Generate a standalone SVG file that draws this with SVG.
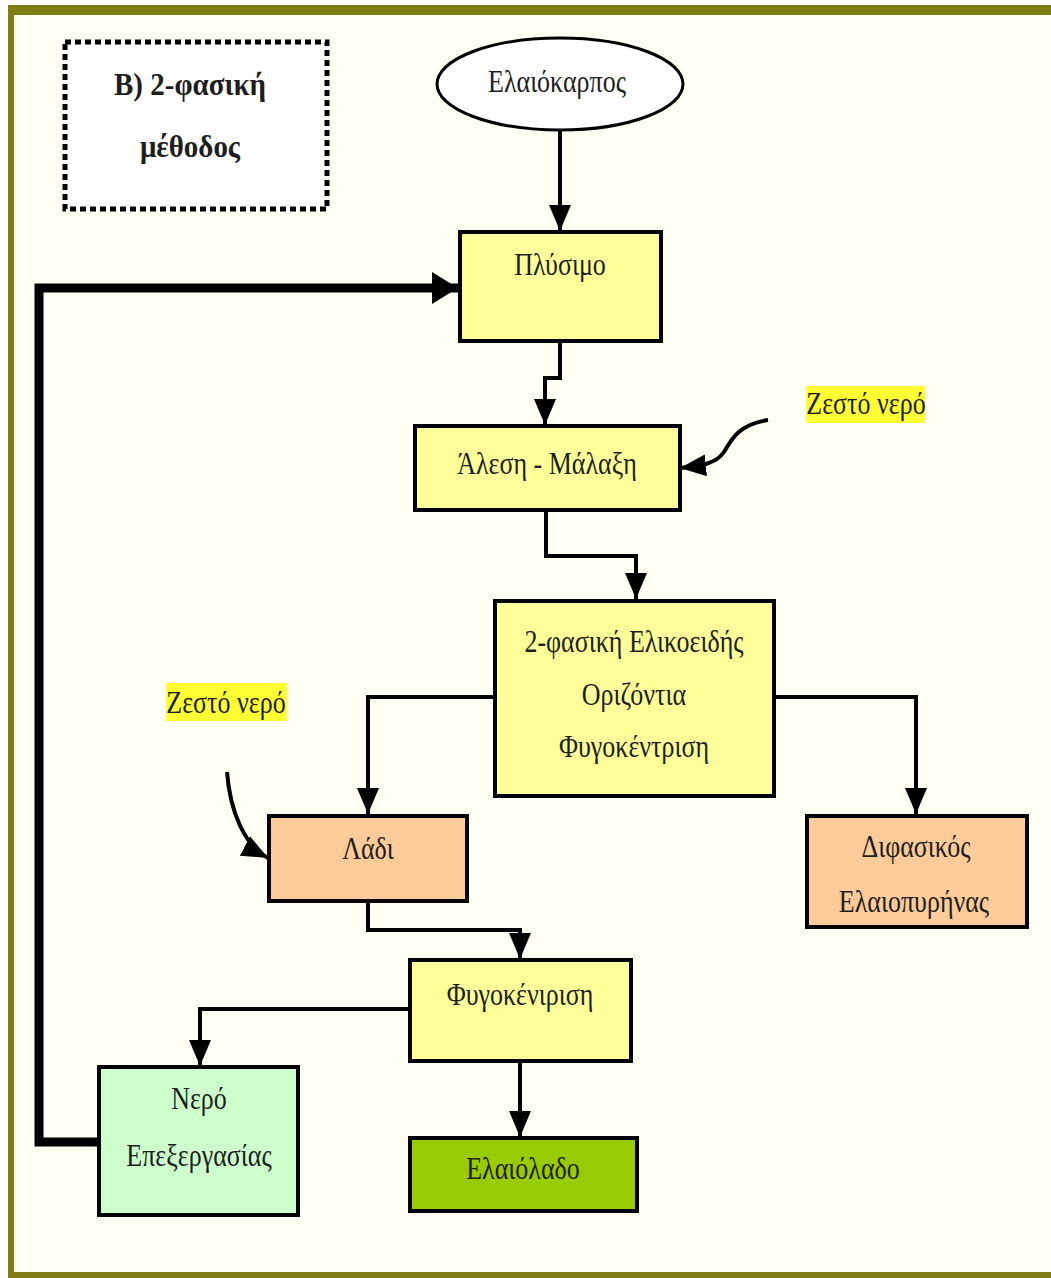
<svg xmlns="http://www.w3.org/2000/svg" width="1051" height="1278" viewBox="0 0 1051 1278">
<defs>
<marker id="ah" markerUnits="userSpaceOnUse" markerWidth="28" markerHeight="22" refX="26" refY="11" orient="auto">
<path d="M0,0 L26,11 L0,22 z" fill="#000"/>
</marker>
<marker id="ahb" markerUnits="userSpaceOnUse" markerWidth="28" markerHeight="32" refX="26" refY="16" orient="auto">
<path d="M0,0 L26,16 L0,32 z" fill="#000"/>
</marker>
<style>
.box{stroke:#000;stroke-width:4}
.y{fill:#ffff99}
.o{fill:#ffcc99}
.g{fill:#ccffcc}
.dg{fill:#99cc00}
.t{font-family:'Liberation Serif','DejaVu Serif',serif;font-size:26px;fill:#1e1e1e;text-anchor:middle}
.b{font-weight:bold;font-size:29px}
.c{fill:none;stroke:#000;stroke-width:4;marker-end:url(#ah)}
.hl{fill:#ffff33}
</style>
</defs>
<rect x="0" y="0" width="1051" height="1278" fill="#ffffff"/>
<rect x="11" y="10" width="1040" height="1265" fill="#fffff4"/>
<rect x="8" y="5" width="1043" height="10" fill="#7d7d14"/>
<rect x="8" y="5" width="6" height="1273" fill="#7d7d14"/>
<rect x="8" y="1272" width="1043" height="6" fill="#7d7d14"/>

<g id="title">
<rect x="65" y="42" width="262" height="167" fill="#ffffff" stroke="#000" stroke-width="5" stroke-dasharray="6 4"/>
<text class="t b" transform="translate(190 95) scale(1 1.12)">B) 2-φασική</text>
<text class="t b" transform="translate(190 157) scale(1 1.12)">μέθοδος</text>
</g>

<g id="connectors">
<path class="c" d="M560,130 V231"/>
<path class="c" d="M560,341 V378 H545 V425"/>
<path class="c" d="M546,510 V556 H636 V599"/>
<path class="c" d="M494,697 H368 V814"/>
<path class="c" d="M773,697 H916 V814"/>
<path class="c" d="M368,900 V930 H520 V959"/>
<path class="c" d="M410,1009 H200 V1066"/>
<path class="c" d="M520,1062 V1137"/>
<path fill="none" stroke="#000" stroke-width="9" marker-end="url(#ahb)" d="M99,1142 H39 V288 H458"/>
<path class="c" d="M768,420 C740,424 732,438 724,452 C716,464 700,466 680,468"/>
<path class="c" d="M227,772 C230,812 245,846 268,858"/>
</g>

<g id="n-elaiokarpos">
<ellipse cx="560" cy="84" rx="123" ry="46" fill="#ffffff" stroke="#000" stroke-width="3"/>
<text class="t" transform="translate(557 92) scale(1 1.18)">Ελαιόκαρπος</text>
</g>

<g id="n-plysimo">
<rect class="box y" x="460" y="232" width="201" height="109"/>
<text class="t" transform="translate(560 275) scale(1 1.18)">Πλύσιμο</text>
</g>

<g id="n-alesi">
<rect class="box y" x="415" y="426" width="265" height="84"/>
<text class="t" transform="translate(547 474) scale(1 1.18)">Άλεση - Μάλαξη</text>
</g>

<g id="l-zesto1">
<rect class="hl" x="806" y="386" width="119" height="37"/>
<text class="t" transform="translate(866 414) scale(1 1.18)">Ζεστό νερό</text>
</g>

<g id="n-2fasiki">
<rect class="box y" x="495" y="601" width="279" height="195"/>
<text class="t" transform="translate(634 652) scale(1 1.18)">2-φασική Ελικοειδής</text>
<text class="t" transform="translate(634 705) scale(1 1.18)">Οριζόντια</text>
<text class="t" transform="translate(634 757) scale(1 1.18)">Φυγοκέντριση</text>
</g>

<g id="l-zesto2">
<rect class="hl" x="166" y="683" width="121" height="38"/>
<text class="t" transform="translate(226 713) scale(1 1.18)">Ζεστό νερό</text>
</g>

<g id="n-ladi">
<rect class="box o" x="269" y="816" width="198" height="85"/>
<text class="t" transform="translate(368 859) scale(1 1.18)">Λάδι</text>
</g>

<g id="n-difasikos">
<rect class="box o" x="807" y="816" width="220" height="111"/>
<text class="t" transform="translate(916 857) scale(1 1.18)">Διφασικός</text>
<text class="t" transform="translate(914 912) scale(1 1.18)">Ελαιοπυρήνας</text>
</g>

<g id="n-fygo">
<rect class="box y" x="410" y="960" width="221" height="101"/>
<text class="t" transform="translate(520 1005) scale(1 1.18)">Φυγοκένιριση</text>
</g>

<g id="n-nero">
<rect class="box g" x="99" y="1067" width="199" height="148"/>
<text class="t" transform="translate(199 1109) scale(1 1.18)">Νερό</text>
<text class="t" transform="translate(199 1166) scale(1 1.18)">Επεξεργασίας</text>
</g>

<g id="n-elaiolado">
<rect class="box dg" x="410" y="1138" width="227" height="73"/>
<text class="t" transform="translate(523 1179) scale(1 1.18)">Ελαιόλαδο</text>
</g>
</svg>
